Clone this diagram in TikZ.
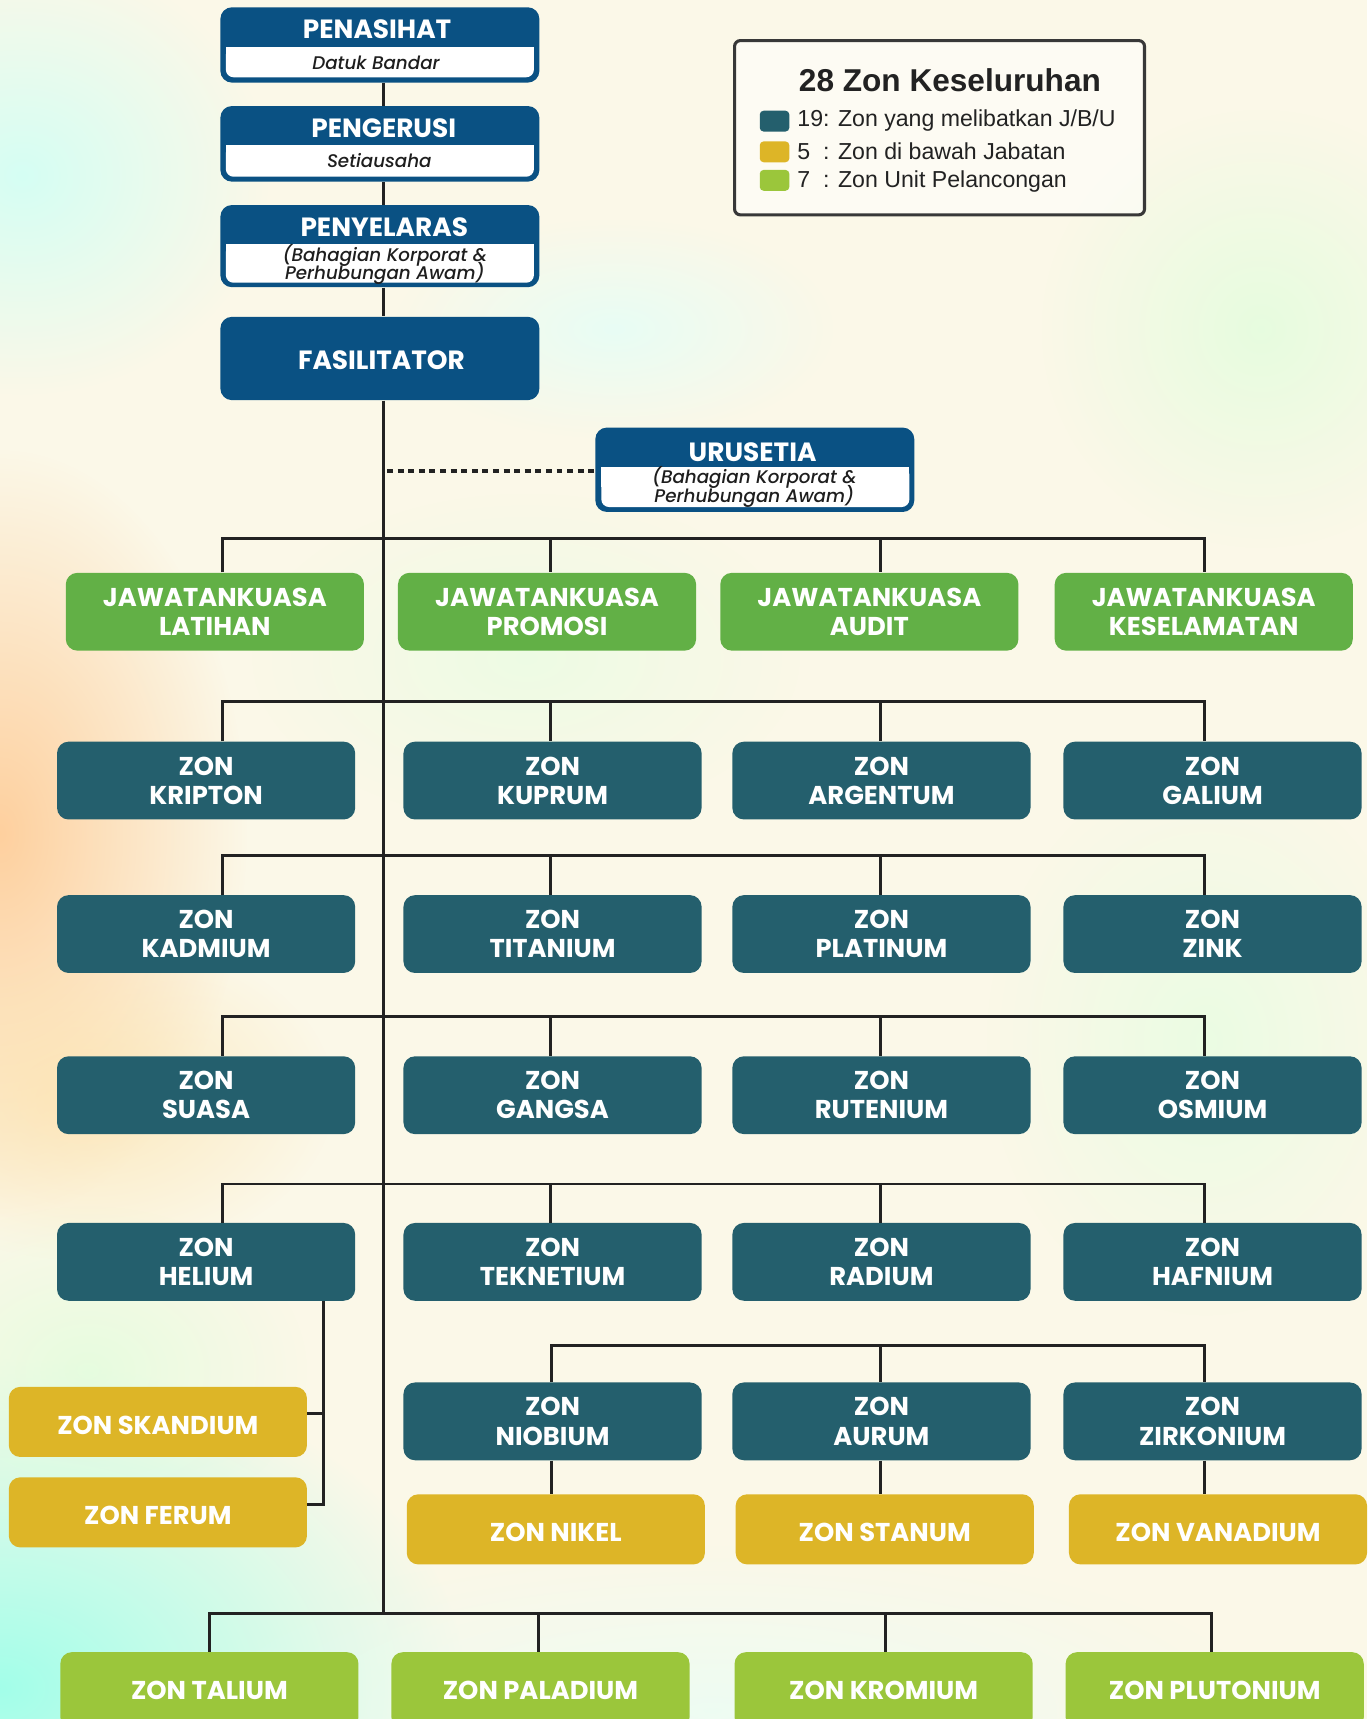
\documentclass[tikz,border=0pt]{standalone}
\usepackage{fontspec}
\setmainfont{Poppins}
\newfontfamily\lib{Liberation Sans}
\newfontfamily\subf{Poppins Medium Italic}
\usetikzlibrary{fadings,calc}
\tikzfading[name=softblob, inner color=transparent!0, outer color=transparent!100]
\definecolor{navy}{HTML}{0A5183}
\definecolor{zteal}{HTML}{245F6D}
\definecolor{jkgreen}{HTML}{62B046}
\definecolor{zyellow}{HTML}{DDB527}
\definecolor{lgreen}{HTML}{9BC63B}
\definecolor{linec}{HTML}{222222}
\definecolor{bgc}{HTML}{FBF8E8}
\definecolor{subc}{HTML}{1E1E1E}
\newcommand\lowr[1]{\raisebox{-1.8pt}[\height][\depth]{#1}}
\newcommand\tightls{\lineskiplimit-10pt\relax}
\tikzset{
  box/.style={rounded corners=6pt, text=white, font=\bfseries\fontsize{13.4}{15.2}\selectfont\tightls, align=center, inner sep=0pt, minimum width=5.44cm},
  zt/.style={box, fill=zteal, minimum height=1.42cm},
  jk/.style={box, fill=jkgreen, minimum height=1.42cm},
  zy/.style={box, fill=zyellow, minimum height=1.28cm},
  zg/.style={box, fill=lgreen, minimum height=1.4cm},
  hdr/.style={rounded corners=6pt, fill=navy, minimum width=5.82cm, inner sep=0pt},
  htitle/.style={text=white, font=\bfseries\fontsize{13.7}{15}\selectfont, inner sep=0pt},
  hsub/.style={text=subc, font=\subf\fontsize{9.5}{9.6}\selectfont\tightls, align=center, inner sep=0pt},
  conn/.style={draw=linec, line width=1.5pt},
  dots/.style={draw=linec, line width=2.3pt, dash pattern=on 3.1pt off 2.4pt},
  blob/.style={path fading=softblob},
  legtxt/.style={anchor=west, text=linec, font=\lib\fontsize{12}{14}\selectfont, inner sep=0pt},
  swatch/.style={rounded corners=2pt, minimum width=0.54cm, minimum height=0.38cm, inner sep=0pt}
}
\begin{document}
\begin{tikzpicture}[x=0.02cm, y=-0.02cm]
\clip (0,0) rectangle (1247,1568);
\useasboundingbox (0,0) rectangle (1247,1568);
% background
\fill[bgc] (0,0) rectangle (1247,1568);
\fill[blob, fill=green!22!cyan!18!white, opacity=0.9] (20,160) ellipse [x radius=4.5cm, y radius=4cm];
\fill[blob, fill=green!15!cyan!12!white, opacity=0.7] (560,300) ellipse [x radius=4cm, y radius=2cm];
\fill[blob, fill=green!15!white, opacity=0.6] (1150,300) ellipse [x radius=4cm, y radius=4cm];
\fill[blob, fill=orange!45!white, opacity=0.8] (0,760) ellipse [x radius=4.5cm, y radius=7cm];
\fill[blob, fill=yellow!30!orange!30!white, opacity=0.7] (80,1000) ellipse [x radius=4.5cm, y radius=3cm];
\fill[blob, fill=green!22!cyan!38!white, opacity=0.95] (0,1540) ellipse [x radius=8.5cm, y radius=6cm];
\fill[blob, fill=green!18!cyan!10!white, opacity=0.6] (650,1560) ellipse [x radius=10cm, y radius=3cm];
\fill[blob, fill=green!12!white, opacity=0.6] (1100,950) ellipse [x radius=4cm, y radius=5cm];
\fill[blob, fill=green!12!white, opacity=0.5] (480,600) ellipse [x radius=5cm, y radius=3cm];
\fill[blob, fill=green!15!white, opacity=0.6] (80,1250) ellipse [x radius=4cm, y radius=3cm];

% coordinates
\coordinate (m) at (350,0);
\coordinate (mb) at (350,1472);

% header boxes
\node[hdr, minimum height=1.374cm] (pen) at (346.5,41) {};
\fill[white, rounded corners=4pt] (206,43) rectangle (487,70.5);
\fill[white] (206,43) rectangle (487,56);
\node[htitle] (pent) at (344,26.8) {PENASIHAT};
\node[hsub] (pens) at (343,57.2) {Datuk Bandar};

\node[hdr, minimum height=1.38cm] (peng) at (346.5,131.2) {};
\fill[white, rounded corners=4pt] (206,132.6) rectangle (487,161.2);
\fill[white] (206,132.6) rectangle (487,146);
\node[htitle] (pengt) at (350,117) {PENGERUSI};
\node[hsub] (pengs) at (346,146.6) {Setiausaha};

\node[hdr, minimum height=1.5cm] (peny) at (346.5,224.5) {};
\fill[white, rounded corners=4pt] (206,222.9) rectangle (487,257.9);
\fill[white] (206,222.9) rectangle (487,240);
\node[htitle] (penyt) at (350.5,206.8) {PENYELARAS};
\node[hsub] (penys) at (351,241) {(Bahagian Korporat \&\\Perhubungan Awam)};

\node[hdr, minimum height=1.52cm] (fas) at (346.5,327) {};
\node[htitle] (fast) at (348,329) {FASILITATOR};

% main line
\draw[conn] (pen.south -| m) -- (peng.north -| m);
\draw[conn] (peng.south -| m) -- (peny.north -| m);
\draw[conn] (peny.south -| m) -- (fas.north -| m);
\draw[conn] (fas.south -| m) -- (mb);

% URUSETIA
\node[hdr, minimum height=1.54cm] (uru) at (688.5,428.5) {};
\fill[white, rounded corners=4pt] (548.5,426) rectangle (829.5,462.5);
\fill[white] (548.5,426) rectangle (829.5,444);
\node[htitle] (urut) at (686.5,412.5) {URUSETIA};
\node[hsub] (urus) at (688,444) {(Bahagian Korporat \&\\Perhubungan Awam)};
\coordinate (dl) at (353,429.5);
\draw[dots] (dl) -- (dl -| uru.west);

% JAWATANKUASA
\node[jk] (jk1) at (196,558) {JAWATANKUASA\\LATIHAN};
\node[jk] (jk2) at (499,558) {JAWATANKUASA\\PROMOSI};
\node[jk] (jk3) at (793,558) {JAWATANKUASA\\AUDIT};
\node[jk] (jk4) at (1098,558) {JAWATANKUASA\\KESELAMATAN};
\coordinate (b1a) at (203,491); \coordinate (b1b) at (502,491);
\coordinate (b1c) at (803,491); \coordinate (b1d) at (1099,491);
\draw[conn] (jk1.north -| b1a) -- (b1a) -- (b1d) -- (jk4.north -| b1d);
\draw[conn] (b1b) -- (jk2.north -| b1b);
\draw[conn] (b1c) -- (jk3.north -| b1c);

% zone row 1
\node[zt] (z11) at (188,712) {ZON\\KRIPTON};
\node[zt] (z12) at (504,712) {ZON\\KUPRUM};
\node[zt] (z13) at (804,712) {ZON\\ARGENTUM};
\node[zt] (z14) at (1106,712) {ZON\\GALIUM};
\coordinate (b2a) at (203,640); \coordinate (b2b) at (502,640);
\coordinate (b2c) at (803,640); \coordinate (b2d) at (1099,640);
\draw[conn] (z11.north -| b2a) -- (b2a) -- (b2d) -- (z14.north -| b2d);
\draw[conn] (b2b) -- (z12.north -| b2b);
\draw[conn] (b2c) -- (z13.north -| b2c);

% zone row 2
\node[zt] (z21) at (188,852) {ZON\\KADMIUM};
\node[zt] (z22) at (504,852) {ZON\\TITANIUM};
\node[zt] (z23) at (804,852) {ZON\\PLATINUM};
\node[zt] (z24) at (1106,852) {ZON\\ZINK};
\coordinate (b3a) at (203,780); \coordinate (b3b) at (502,780);
\coordinate (b3c) at (803,780); \coordinate (b3d) at (1099,780);
\draw[conn] (z21.north -| b3a) -- (b3a) -- (b3d) -- (z24.north -| b3d);
\draw[conn] (b3b) -- (z22.north -| b3b);
\draw[conn] (b3c) -- (z23.north -| b3c);

% zone row 3
\node[zt] (z31) at (188,999) {ZON\\SUASA};
\node[zt] (z32) at (504,999) {ZON\\GANGSA};
\node[zt] (z33) at (804,999) {ZON\\RUTENIUM};
\node[zt] (z34) at (1106,999) {ZON\\OSMIUM};
\coordinate (b4a) at (203,927); \coordinate (b4b) at (502,927);
\coordinate (b4c) at (803,927); \coordinate (b4d) at (1099,927);
\draw[conn] (z31.north -| b4a) -- (b4a) -- (b4d) -- (z34.north -| b4d);
\draw[conn] (b4b) -- (z32.north -| b4b);
\draw[conn] (b4c) -- (z33.north -| b4c);

% zone row 4
\node[zt] (z41) at (188,1151) {ZON\\HELIUM};
\node[zt] (z42) at (504,1151) {ZON\\TEKNETIUM};
\node[zt] (z43) at (804,1151) {ZON\\RADIUM};
\node[zt] (z44) at (1106,1151) {ZON\\HAFNIUM};
\coordinate (b5a) at (203,1080); \coordinate (b5b) at (502,1080);
\coordinate (b5c) at (803,1080); \coordinate (b5d) at (1099,1080);
\draw[conn] (z41.north -| b5a) -- (b5a) -- (b5d) -- (z44.north -| b5d);
\draw[conn] (b5b) -- (z42.north -| b5b);
\draw[conn] (b5c) -- (z43.north -| b5c);

% Helium branch
\node[zy] (sk) at (144,1297) {\lowr{ZON SKANDIUM}};
\node[zy] (fe) at (144,1379.5) {\lowr{ZON FERUM}};
\coordinate (hx) at (295,1186);
\coordinate (hs) at (295,1289);
\coordinate (hf) at (295,1372.5);
\draw[conn] (z41.south -| hx) -- (hf) -- (hf -| fe.east);
\draw[conn] (hs) -- (hs -| sk.east);

% zone row 5
\node[zt] (z52) at (504,1296.5) {ZON\\NIOBIUM};
\node[zt] (z53) at (804,1296.5) {ZON\\AURUM};
\node[zt] (z54) at (1106,1296.5) {ZON\\ZIRKONIUM};
\coordinate (b6b) at (503,1227); \coordinate (b6c) at (803,1227);
\coordinate (b6d) at (1099,1227);
\draw[conn] (z52.north -| b6b) -- (b6b) -- (b6d) -- (z54.north -| b6d);
\draw[conn] (b6c) -- (z53.north -| b6c);

% yellow row
\node[zy] (y2) at (507,1395) {\lowr{ZON NIKEL}};
\node[zy] (y3) at (807,1395) {\lowr{ZON STANUM}};
\node[zy] (y4) at (1111,1395) {\lowr{ZON VANADIUM}};
\draw[conn] (z52.south -| b6b) -- (y2.north -| b6b);
\draw[conn] (z53.south -| b6c) -- (y3.north -| b6c);
\draw[conn] (z54.south -| b6d) -- (y4.north -| b6d);

% bottom row
\node[zg] (g1) at (191,1542) {ZON TALIUM};
\node[zg] (g2) at (493,1542) {ZON PALADIUM};
\node[zg] (g3) at (806,1542) {ZON KROMIUM};
\node[zg] (g4) at (1108,1542) {ZON PLUTONIUM};
\coordinate (b7a) at (191,1472); \coordinate (b7b) at (491,1472);
\coordinate (b7c) at (808,1472); \coordinate (b7d) at (1105,1472);
\draw[conn] (g1.north -| b7a) -- (b7a) -- (b7d) -- (g4.north -| b7d);
\draw[conn] (b7b) -- (g2.north -| b7b);
\draw[conn] (b7c) -- (g3.north -| b7c);

% legend
\node[draw=linec!90, line width=1.6pt, rounded corners=3pt, fill=white, fill opacity=0.5, minimum width=7.48cm, minimum height=3.18cm, inner sep=0pt] (leg) at (857,116.5) {};
\node[text=linec, font=\lib\bfseries\fontsize{16.4}{19}\selectfont, inner sep=0pt] (legt) at (866.5,73.5) {28 Zon Keseluruhan};
\node[swatch, fill=zteal] (s1) at (706.5,110.5) {};
\node[swatch, fill=zyellow] (s2) at (706.5,138.5) {};
\node[swatch, fill=lgreen] (s3) at (706.5,164.5) {};
\node[legtxt] (l1) at (727,109.5) {19: Zon yang melibatkan J/B/U};
\node[legtxt] (l2) at (727,137.5) {\rlap{5}\phantom{19}: Zon di bawah Jabatan};
\node[legtxt] (l3) at (727,165.5) {\rlap{7}\phantom{19}: Zon Unit Pelancongan};
\end{tikzpicture}
\end{document}
